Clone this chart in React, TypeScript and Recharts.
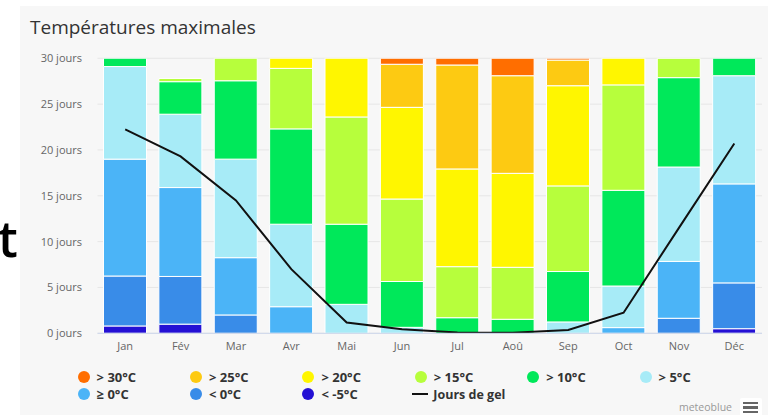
import React from 'react';
import { ComposedChart, Bar, Line, XAxis, YAxis, CartesianGrid } from 'recharts';

// Months of the year
const months = ['Jan', 'Fév', 'Mar', 'Avr', 'Mai', 'Jun', 'Jul', 'Aoû', 'Sep', 'Oct', 'Nov', 'Déc'];

// Days per month in each maximum-temperature class (stacked bottom to top)
const belowMinus5 = [0.8, 1.0, 0, 0, 0, 0, 0, 0, 0, 0, 0, 0.5];
const below0 = [5.45, 5.2, 2.0, 0, 0, 0, 0, 0, 0, 0, 1.64, 5.0];
const above0 = [12.75, 9.7, 6.25, 2.9, 0, 0, 0, 0, 0, 0.62, 6.2, 10.8];
const above5 = [10.1, 8.0, 10.75, 9.0, 3.16, 0.65, 0, 0, 1.24, 4.54, 10.3, 11.8];
const above10 = [0.9, 3.55, 8.55, 10.4, 8.74, 5.0, 1.7, 1.53, 5.5, 10.44, 9.75, 1.9];
const above15 = [0, 0.35, 2.45, 6.6, 11.7, 9.0, 5.57, 5.67, 9.34, 11.5, 2.1, 0];
const above20 = [0, 0, 0, 1.1, 6.4, 10.0, 10.66, 10.25, 10.93, 2.9, 0, 0];
const above25 = [0, 0, 0, 0, 0, 4.7, 11.34, 10.65, 2.8, 0, 0, 0];
const above30 = [0, 0, 0, 0, 0, 0.65, 0.73, 1.9, 0.2, 0, 0, 0];

// Frost days per month
const frostDays = [22.25, 19.3, 14.5, 7.0, 1.17, 0.45, 0.1, 0.05, 0.36, 2.25, 11.5, 20.7];

const yTicks = [0, 5, 10, 15, 20, 25, 30];

const series = [
  { key: 'm5', name: '< -5°C', color: '#2410d4', values: belowMinus5 },
  { key: 'b0', name: '< 0°C', color: '#398ce8', values: below0 },
  { key: 'a0', name: '≥ 0°C', color: '#4bb4f7', values: above0 },
  { key: 'a5', name: '> 5°C', color: '#a7ebf7', values: above5 },
  { key: 'a10', name: '> 10°C', color: '#00e85a', values: above10 },
  { key: 'a15', name: '> 15°C', color: '#b7fe3c', values: above15 },
  { key: 'a20', name: '> 20°C', color: '#fff600', values: above20 },
  { key: 'a25', name: '> 25°C', color: '#fdca12', values: above25 },
  { key: 'a30', name: '> 30°C', color: '#ff6e00', values: above30 },
];

const data = months.map((m, i) => {
  const row: Record<string, number | string> = { month: m, gel: frostDays[i] };
  series.forEach((s) => {
    row[s.key] = s.values[i];
  });
  return row;
});

// Legend entries in display order
const legendOrder = ['a30', 'a25', 'a20', 'a15', 'a10', 'a5', 'a0', 'b0', 'm5'];

const FONT = '"Open Sans", sans-serif';

export default function App() {
  const legendItems = legendOrder.map((k) => series.find((s) => s.key === k)!);
  return (
    <div style={{ position: 'fixed', left: 0, top: 0, width: 768, height: 415, background: '#fff', overflow: 'hidden' }}>
      <div
        style={{
          position: 'absolute', left: -2, top: 203, fontFamily: FONT, fontSize: 50, fontWeight: 600,
          lineHeight: '70px', color: '#000',
        }}
      >
        t
      </div>
      <div style={{ position: 'absolute', left: 20, top: 6, width: 748, height: 409, background: '#f7f7f7' }}>
        <div
          style={{
            position: 'absolute', left: 10, top: 8, fontFamily: FONT, fontSize: 19, color: '#333', lineHeight: '26px',
            whiteSpace: 'nowrap',
          }}
        >
          Températures maximales
        </div>
        <ComposedChart
          width={748}
          height={409}
          data={data}
          margin={{ top: 52.3, right: 6, bottom: 51.7, left: 0 }}
          barCategoryGap={6}
        >
          <CartesianGrid horizontal vertical={false} stroke="#e6e6e6" />
          <XAxis
            dataKey="month"
            height={30}
            axisLine={{ stroke: '#ccd6eb' }}
            tickLine={false}
            tickSize={0}
            tickMargin={9}
            tick={{ fill: '#666', fontSize: 11, fontFamily: FONT }}
            interval={0}
          />
          <YAxis
            width={77.5}
            domain={[0, 30]}
            ticks={yTicks}
            allowDataOverflow
            axisLine={false}
            tickLine={false}
            tickSize={0}
            tickMargin={15.5}
            tickFormatter={(v: number) => `${v} jours`}
            tick={{ fill: '#666', fontSize: 11, fontFamily: FONT }}
          />
          {series.map((s) => (
            <Bar
              key={s.key}
              dataKey={s.key}
              name={s.name}
              stackId="t"
              fill={s.color}
              stroke="#ffffff"
              strokeWidth={1}
              isAnimationActive={false}
            />
          ))}
          <Line
            type="linear"
            dataKey="gel"
            name="Jours de gel"
            stroke="#111"
            strokeWidth={2}
            dot={false}
            activeDot={false}
            isAnimationActive={false}
          />
        </ComposedChart>
        {legendItems.map((s, i) => {
          const col = i % 6;
          const row = Math.floor(i / 6);
          const cx = 63.6 + col * 112.4;
          const cy = 371 + row * 17;
          return (
            <div key={s.key} style={{ position: 'absolute', left: cx - 6, top: cy - 8, height: 16, display: 'flex', alignItems: 'center', whiteSpace: 'nowrap' }}>
              <span style={{ display: 'inline-block', width: 12, height: 12, borderRadius: 6, background: s.color }} />
              <span style={{ marginLeft: 7, fontFamily: FONT, fontWeight: 700, fontSize: 13, color: '#333' }}>{s.name}</span>
            </div>
          );
        })}
        <div style={{ position: 'absolute', left: 63.6 + 3 * 112.4 - 8.5, top: 380, height: 16, display: 'flex', alignItems: 'center', whiteSpace: 'nowrap' }}>
          <span style={{ display: 'inline-block', width: 16, height: 2, background: '#111' }} />
          <span style={{ marginLeft: 5, fontFamily: FONT, fontWeight: 700, fontSize: 12.5, color: '#333' }}>Jours de gel</span>
        </div>
        <div style={{ position: 'absolute', left: 659, top: 394, fontFamily: FONT, fontSize: 10.5, color: '#999', lineHeight: '15px' }}>
          meteoblue
        </div>
        <div style={{ position: 'absolute', left: 720, top: 392, width: 22, height: 20, background: '#fff', borderRadius: 2 }}>
          {[5, 9.3, 13.7].map((y) => (
            <div key={y} style={{ position: 'absolute', left: 3, top: y - 1.2, width: 14.6, height: 2.5, background: '#666' }} />
          ))}
        </div>
      </div>
    </div>
  );
}
